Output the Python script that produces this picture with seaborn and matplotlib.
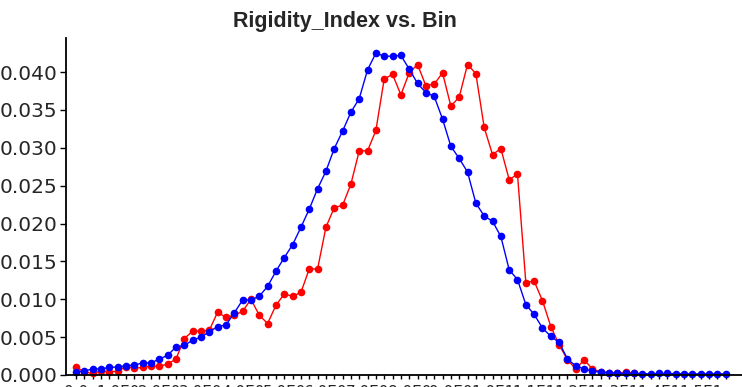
import numpy as np
import pandas as pd
import matplotlib
matplotlib.use("Agg")
import matplotlib.pyplot as plt
import seaborn as sns

# ---- data ----
bins = list(range(79))

blue_values = [
    0.00044, 0.00053, 0.0008, 0.0008, 0.0010, 0.00105, 0.00123, 0.0013, 0.0016, 0.0016,
    0.0021, 0.0026, 0.0037, 0.0039, 0.0046, 0.0050, 0.0057, 0.0064, 0.0066, 0.0082,
    0.0099, 0.0099, 0.0104, 0.0117, 0.0137, 0.0155, 0.0172, 0.0195, 0.0219, 0.0246,
    0.0269, 0.0299, 0.0322, 0.0347, 0.0365, 0.0403, 0.0425, 0.0421, 0.0421, 0.0422,
    0.0404, 0.0385, 0.0373, 0.0368, 0.0338, 0.0302, 0.0286, 0.0268, 0.0227, 0.0210,
    0.0203, 0.0183, 0.0139, 0.0126, 0.0093, 0.0080, 0.0062, 0.0051, 0.0043, 0.0021,
    0.0012, 0.0008, 0.0005, 0.0004, 0.0003, 0.0002, 0.0002, 0.0002, 0.00018, 0.00015,
    0.0002, 0.0002, 0.00018, 0.00015, 0.00015, 0.00015, 0.00015, 0.00015, 0.00015,
]

red_values = [
    0.00106, 0.00040, 0.0002, 0.00057, 0.0004, 0.0005, 0.0011, 0.0009, 0.0010, 0.0012,
    0.00115, 0.00145, 0.0021, 0.0048, 0.0058, 0.0058, 0.0059, 0.0083, 0.0076, 0.0079,
    0.0084, 0.0100, 0.0079, 0.0068, 0.0092, 0.0107, 0.0104, 0.0109, 0.0140, 0.0140,
    0.0195, 0.0221, 0.0224, 0.0252, 0.0296, 0.0296, 0.0323, 0.0391, 0.0397, 0.0370,
    0.0399, 0.0410, 0.0382, 0.0384, 0.0399, 0.0355, 0.0367, 0.0410, 0.0398, 0.0327,
    0.0291, 0.0299, 0.0258, 0.0265, 0.0122, 0.0124, 0.0098, 0.0064, 0.0040, 0.0020,
    0.0008, 0.0020, 0.0008, 0.0004, 0.0003, 0.0002, 0.0004, 0.0002,
    np.nan, np.nan, np.nan, np.nan, np.nan, np.nan, np.nan, np.nan, np.nan, np.nan, np.nan,
]

x_tick_positions = list(range(0, 79, 5))
x_tick_labels = ["0.0", "1.0E0", "2.0E0", "3.0E0", "4.0E0", "5.0E0", "6.0E0", "7.0E0",
                 "8.0E0", "9.0E0", "1.0E1", "1.1E1", "1.2E1", "1.3E1", "1.4E1", "1.5E1"]
y_ticks = [0.000, 0.005, 0.010, 0.015, 0.020, 0.025, 0.030, 0.035, 0.040]

title = "Rigidity_Index vs. Bin"

# ---- plotting ----
sns.set_style("white")
plt.rcParams["font.family"] = ["DejaVu Sans"]

fig = plt.figure(figsize=(7.42, 3.87), dpi=100)
ax = fig.add_axes([66 / 742, 12 / 387, 676 / 742, 337 / 387])

df_red = pd.DataFrame({"bin": bins, "value": red_values})
df_blue = pd.DataFrame({"bin": bins, "value": blue_values})

sns.lineplot(data=df_red, x="bin", y="value", ax=ax, color="#ff0000", marker="o",
             markersize=5.5, markeredgewidth=0, linewidth=1.0, clip_on=False)
sns.lineplot(data=df_blue, x="bin", y="value", ax=ax, color="#0000ff", marker="o",
             markersize=5.5, markeredgewidth=0, linewidth=1.0, clip_on=False)

ax.set_xlim(-1.2, 79.95)
ax.set_ylim(0, 0.0445)
ax.set_yticks(y_ticks)
ax.set_yticklabels([f"{v:.3f}" for v in y_ticks])
ax.set_xticks(bins, minor=True)
ax.set_xticks(x_tick_positions)
ax.set_xticklabels(x_tick_labels)
ax.set_xlabel("")
ax.set_ylabel("")

for side in ["top", "right"]:
    ax.spines[side].set_visible(False)
for side in ["left", "bottom"]:
    ax.spines[side].set_color("black")
    ax.spines[side].set_linewidth(1.3)

ax.tick_params(axis="y", which="major", direction="out", length=4, width=1,
               color="black", labelsize=14.5, pad=2, left=True)
ax.tick_params(axis="x", which="both", direction="out", length=3, width=1,
               color="black", bottom=True)
ax.tick_params(axis="x", which="major", labelsize=11, pad=4.5)

fig.text(345 / 742, 1 - 21 / 387, title, ha="center", va="center",
         fontsize=15.5, fontweight="bold", family=["Liberation Sans", "DejaVu Sans"])

fig.savefig("out.png", dpi=100)
